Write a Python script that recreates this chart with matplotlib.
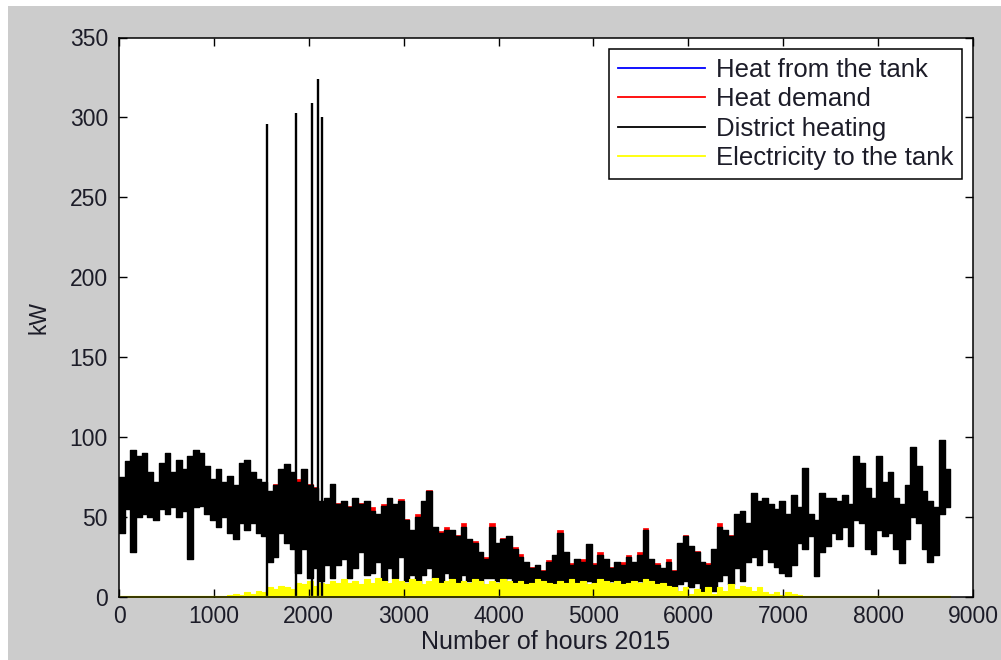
import numpy as np
import matplotlib
matplotlib.use("Agg")
import matplotlib.pyplot as plt
from matplotlib.patches import Rectangle
from matplotlib.lines import Line2D

# Hourly energy balance for 2015, summarised as the highest and lowest
# hourly value in each 60-hour block (146 blocks cover the 8760 hours).
BLOCK_HOURS = 60
YEAR_HOURS = 8760

dh_peak = [
    75, 85, 92, 88, 90, 78, 72, 84, 90, 78,
    86, 80, 88, 92, 90, 82, 74, 80, 72, 76,
    70, 84, 86, 78, 74, 72, 66, 70, 80, 83,
    78, 72, 80, 70, 68, 60, 62, 71, 58, 60,
    56, 62, 58, 60, 54, 52, 57, 62, 58, 60,
    48, 42, 50, 60, 66, 44, 40, 42, 42, 38,
    44, 36, 34, 28, 24, 44, 34, 36, 38, 30,
    25, 22, 18, 20, 16, 22, 26, 40, 28, 20,
    24, 22, 33, 20, 26, 24, 18, 22, 20, 25,
    22, 26, 42, 24, 20, 18, 22, 16, 34, 38,
    32, 28, 22, 20, 30, 44, 42, 38, 52, 54,
    46, 65, 60, 62, 58, 55, 60, 52, 64, 56,
    81, 52, 48, 65, 62, 62, 60, 64, 58, 88,
    84, 68, 62, 88, 72, 78, 62, 58, 70, 94,
    82, 66, 60, 56, 98, 80,
]
dh_trough = [
    40, 55, 28, 50, 52, 50, 48, 55, 52, 56,
    50, 54, 24, 56, 57, 52, 48, 44, 50, 40,
    36, 46, 42, 46, 40, 38, 22, 25, 40, 34,
    30, 15, 30, 12, 18, 10, 20, 12, 20, 24,
    12, 18, 28, 14, 15, 22, 10, 18, 12, 25,
    10, 14, 8, 14, 18, 12, 8, 15, 12, 8,
    14, 10, 10, 8, 12, 12, 10, 8, 12, 9,
    6, 8, 5, 10, 4, 7, 5, 8, 3, 9,
    6, 8, 10, 6, 9, 7, 10, 8, 6, 9,
    8, 10, 7, 9, 6, 3, 4, 2, 8, 10,
    6, 9, 3, 5, 4, 10, 14, 8, 18, 10,
    22, 25, 20, 30, 22, 19, 15, 13, 20, 34,
    30, 38, 13, 28, 32, 40, 36, 44, 32, 48,
    46, 30, 27, 42, 38, 40, 30, 21, 36, 50,
    46, 30, 22, 26, 52, 56,
]
# Heat drawn from the tank at the block peaks (demand = district + tank)
tank_peak = [
    0, 0, 0, 0, 0, 0, 0, 0, 0, 0,
    0, 0, 0, 0, 0, 0, 0, 0, 0, 0,
    0, 0, 0, 0, 0, 0, 0, 1, 0, 0,
    0, 2, 0, 1, 1, 0, 0, 0, 1, 0,
    1, 0, 1, 0, 2, 0, 1, 0, 0, 1,
    1, 0, 2, 0, 1, 0, 1, 2, 0, 1,
    2, 0, 1, 0, 1, 2, 0, 1, 0, 1,
    2, 0, 1, 0, 1, 1, 0, 2, 0, 1,
    0, 2, 0, 1, 2, 0, 1, 0, 2, 1,
    0, 2, 1, 0, 1, 0, 2, 1, 0, 1,
    0, 1, 0, 1, 0, 2, 0, 1, 0, 0,
    0, 0, 0, 0, 0, 0, 0, 0, 0, 0,
    0, 0, 0, 0, 0, 0, 0, 0, 0, 0,
    0, 0, 0, 0, 0, 0, 0, 0, 0, 0,
    0, 0, 0, 0, 0, 0,
]
elec_peak = [
    0, 0, 0, 0, 0, 0, 0, 0, 0, 0,
    0, 0, 0, 0, 0, 0, 0, 0, 0, 1,
    2, 1, 3, 2, 4, 3, 6, 5, 7, 6,
    5, 9, 8, 10, 7, 9, 8, 10, 9, 11,
    9, 10, 8, 11, 9, 12, 10, 9, 11, 10,
    9, 11, 10, 8, 10, 12, 9, 10, 11, 9,
    10, 9, 11, 10, 8, 10, 9, 11, 10, 9,
    10, 8, 9, 11, 10, 9, 8, 10, 9, 11,
    9, 10, 8, 9, 11, 10, 9, 10, 8, 9,
    10, 9, 11, 10, 8, 9, 7, 6, 4, 6,
    2, 5, 3, 6, 2, 6, 4, 8, 5, 7,
    6, 4, 6, 3, 2, 3, 1, 3, 2, 1,
    0, 0, 0, 0, 0, 0, 0, 0, 0, 0,
    0, 0, 0, 0, 0, 0, 0, 0, 0, 0,
    0, 0, 0, 0, 0, 0,
]

# Short district-heating surges (hour of year, kW)
spike_hours = [1556, 1865, 2030, 2093, 2136]
spike_values = [296, 303, 309, 324, 300]

x_ticks = [0, 1000, 2000, 3000, 4000, 5000, 6000, 7000, 8000, 9000]
y_ticks = [0, 50, 100, 150, 200, 250, 300, 350]
series_labels = ["Heat from the tank", "Heat demand", "District heating",
                 "Electricity to the tank"]
series_colors = ["#0000ff", "#ff0000", "#000000", "#ffff00"]

n_blocks = len(dh_peak)
edges = np.append(np.arange(n_blocks) * BLOCK_HOURS, YEAR_HOURS)


def stepped(values):
    v = np.asarray(values, float)
    return np.append(v, v[-1])


dh_hi = stepped(dh_peak)
dh_lo = stepped(dh_trough)
tank_hi = stepped(tank_peak)
demand_hi = dh_hi + tank_hi
elec_hi = stepped(elec_peak)
zero = np.zeros_like(dh_hi)

plt.rcParams["font.family"] = ["Liberation Sans", "DejaVu Sans"]
FS = 16.5
FS_BIG = 18.5
TXT = "#1c1c28"

fig = plt.figure(figsize=(10.01, 6.60), dpi=100, facecolor="white")
fig.patches.append(Rectangle((8 / 1001, 0), 1, 1 - 6 / 660,
                             transform=fig.transFigure, facecolor="#cccccc",
                             edgecolor="none", zorder=-10))

ax = fig.add_axes([119 / 1001, 63 / 660, 854 / 1001, 559.5 / 660])
ax.set_facecolor("white")

# heat from the tank
ax.fill_between(edges, zero, tank_hi, step="post", color=series_colors[0],
                lw=0.8)
# heat demand
ax.fill_between(edges, dh_lo, demand_hi, step="post", color=series_colors[1],
                lw=0.5)
# district heating
ax.fill_between(edges, dh_lo, dh_hi, step="post", color=series_colors[2],
                lw=1.0)
ax.vlines(spike_hours, 0, spike_values, color=series_colors[2], lw=1.7)
# electricity to the tank
ax.fill_between(edges, zero, elec_hi, step="post", color=series_colors[3],
                lw=0.8)
ax.plot([0, YEAR_HOURS], [0, 0], color=series_colors[3], lw=1.6)

ax.set_xlim(0, 9000)
ax.set_ylim(0, 350)
ax.set_xticks(x_ticks)
ax.set_yticks(y_ticks)
ax.tick_params(direction="in", length=6, width=1, top=True, right=True,
               labelsize=FS, colors="#000000", labelcolor=TXT)
ax.tick_params(axis="y", pad=8)
ax.tick_params(axis="x", pad=6)
for s in ax.spines.values():
    s.set_color("#000000")
    s.set_linewidth(1.1)
    s.set_zorder(5)

ax.set_xlabel("Number of hours 2015", fontsize=18, color=TXT, labelpad=1)
ax.set_ylabel("kW", fontsize=FS, color=TXT, labelpad=14)

handles = [Line2D([], [], color=c, lw=1.3) for c in series_colors]
leg = ax.legend(handles, series_labels, loc="upper right",
                bbox_to_anchor=(0.987, 0.979), borderaxespad=0,
                fontsize=FS_BIG, frameon=True, fancybox=False, shadow=False,
                framealpha=1, edgecolor="#000000", handlelength=3.4,
                handletextpad=0.4, labelspacing=0.2, borderpad=0.35)
leg.get_frame().set_linewidth(1.1)
for txt in leg.get_texts():
    txt.set_color(TXT)

fig.savefig("out.png", dpi=100, facecolor=fig.get_facecolor())
